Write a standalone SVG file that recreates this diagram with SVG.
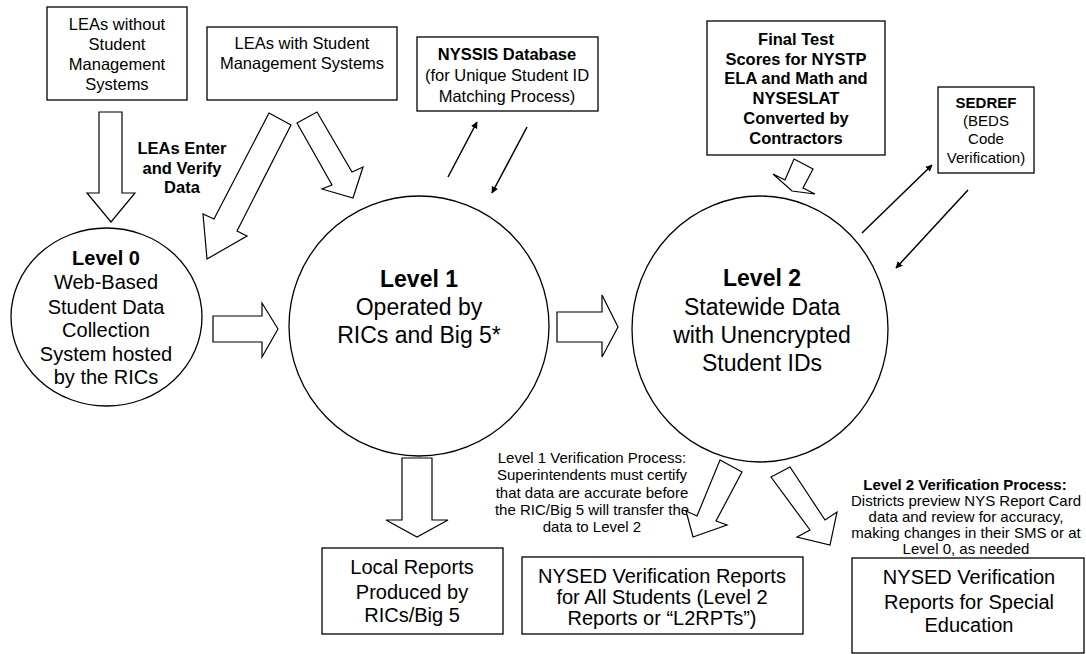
<svg xmlns="http://www.w3.org/2000/svg" width="1086" height="654" viewBox="0 0 1086 654">
<defs>
<style>
.box{fill:#fff;stroke:#000;stroke-width:1.3}
.blk{fill:#fff;stroke:#000;stroke-width:1.2;stroke-linejoin:miter}
.ln{stroke:#000;stroke-width:1.5;fill:none}
text{font-family:"Liberation Sans",Arial,sans-serif;fill:#000;text-anchor:middle}
.t16{font-size:16.5px}
.t15{font-size:15px}
.b{font-weight:bold}
.t20{font-size:20px}
.t23{font-size:23px}
</style>
<marker id="ah" viewBox="0 0 10 10" refX="9" refY="5" markerWidth="7" markerHeight="7" orient="auto" markerUnits="userSpaceOnUse">
<path d="M0,0 L10,5 L0,10 z" fill="#000"/>
</marker>
</defs>
<rect width="1086" height="654" fill="#fff"/>

<g id="leas-without">
<rect class="box" x="47" y="7" width="140" height="93"/>
<text class="t16" x="117" y="30">LEAs without</text>
<text class="t16" x="117" y="50">Student</text>
<text class="t16" x="117" y="70">Management</text>
<text class="t16" x="117" y="90">Systems</text>
</g>

<g id="leas-with">
<rect class="box" x="207" y="27" width="190" height="73"/>
<text class="t16" x="302" y="49">LEAs with Student</text>
<text class="t16" x="302" y="69">Management Systems</text>
</g>

<g id="nyssis">
<rect class="box" x="417" y="37" width="181" height="74"/>
<text class="t16 b" x="507" y="60">NYSSIS Database</text>
<text class="t16" x="507" y="81">(for Unique Student ID</text>
<text class="t16" x="507" y="102">Matching Process)</text>
</g>

<g id="final-test">
<rect class="box" x="707" y="21" width="178" height="134"/>
<text class="t16 b" x="796" y="45">Final Test</text>
<text class="t16 b" x="796" y="65">Scores for NYSTP</text>
<text class="t16 b" x="796" y="84">ELA and Math and</text>
<text class="t16 b" x="796" y="104">NYSESLAT</text>
<text class="t16 b" x="796" y="124">Converted by</text>
<text class="t16 b" x="796" y="144">Contractors</text>
</g>

<g id="sedref">
<rect class="box" x="938" y="87" width="96" height="86"/>
<text class="t15 b" x="986" y="108">SEDREF</text>
<text class="t15" x="986" y="126">(BEDS</text>
<text class="t15" x="986" y="144">Code</text>
<text class="t15" x="986" y="163">Verification)</text>
</g>

<g id="level0">
<ellipse class="box" cx="106.5" cy="317" rx="95.5" ry="89"/>
<text class="t20 b" x="106" y="265">Level 0</text>
<text class="t20" x="106" y="289">Web-Based</text>
<text class="t20" x="106" y="314">Student Data</text>
<text class="t20" x="106" y="337">Collection</text>
<text class="t20" x="106" y="361">System hosted</text>
<text class="t20" x="106" y="384">by the RICs</text>
</g>

<g id="level1">
<circle class="box" cx="419" cy="326" r="130"/>
<text class="t23 b" x="419" y="287">Level 1</text>
<text class="t23" x="419" y="315">Operated by</text>
<text class="t23" x="419" y="343">RICs and Big 5*</text>
</g>

<g id="level2">
<ellipse class="box" cx="760" cy="329" rx="128" ry="133"/>
<text class="t23 b" x="762" y="286">Level 2</text>
<text class="t23" x="762" y="315">Statewide Data</text>
<text class="t23" x="762" y="343">with Unencrypted</text>
<text class="t23" x="762" y="371">Student IDs</text>
</g>

<g id="local-reports">
<rect class="box" x="322" y="548" width="181" height="86"/>
<text class="t20" x="412" y="574">Local Reports</text>
<text class="t20" x="412" y="599">Produced by</text>
<text class="t20" x="412" y="622">RICs/Big 5</text>
</g>

<g id="nysed-all">
<rect class="box" x="522" y="557" width="281" height="77"/>
<text class="t20" x="662" y="583">NYSED Verification Reports</text>
<text class="t20" x="662" y="604">for All Students (Level 2</text>
<text class="t20" x="662" y="625">Reports or “L2RPTs”)</text>
</g>

<g id="nysed-sped">
<rect class="box" x="852" y="558" width="232" height="95"/>
<text class="t20" x="969" y="584">NYSED Verification</text>
<text class="t20" x="969" y="609">Reports for Special</text>
<text class="t20" x="969" y="632">Education</text>
</g>

<g id="labels">
<text class="t16 b" x="182" y="154">LEAs Enter</text>
<text class="t16 b" x="182" y="174">and Verify</text>
<text class="t16 b" x="182" y="193">Data</text>
<g class="t15">
<text x="592" y="463">Level 1 Verification Process:</text>
<text x="592" y="480">Superintendents must certify</text>
<text x="592" y="498">that data are accurate before</text>
<text x="592" y="515">the RIC/Big 5 will transfer the</text>
<text x="592" y="532">data to Level 2</text>
</g>
<g class="t15">
<text class="b" x="965" y="490">Level 2 Verification Process:</text>
<text x="966" y="506">Districts preview NYS Report Card</text>
<text x="966" y="522">data and review for accuracy,</text>
<text x="966" y="538">making changes in their SMS or at</text>
<text x="966" y="554">Level 0, as needed</text>
</g>
</g>

<g id="connectors">
<polygon class="blk" points="99,112 122,112 122,193 135,193 111,222 87,193 99,193"/>
<polygon class="blk" points="269,113 291,125 237,231 247,236 207,259 203,214 214,219"/>
<polygon class="blk" points="297,123 317,112 352,172 363,167 353,198 322,189 332,185"/>
<polygon class="blk" points="213,316 262,316 262,303 278,329 262,357 262,342 213,342"/>
<polygon class="blk" points="557,312 602,312 602,295 618,327 602,357 602,342 557,342"/>
<polygon class="blk" points="402,458 432,458 432,520 448,520 417,537 386,520 402,520"/>
<polygon class="blk" points="794,159 813,169 803,188 815,194 792,191 773,174 785,180"/>
<polygon class="blk" points="720,460 742,472 716,521 727,525 693,537 686,511 697,516"/>
<polygon class="blk" points="771,477 790,467 825,520 837,512 830,545 797,537 810,530"/>
<line class="ln" x1="448" y1="177" x2="477" y2="122" marker-end="url(#ah)"/>
<line class="ln" x1="527" y1="127" x2="492" y2="193" marker-end="url(#ah)"/>
<line class="ln" x1="862" y1="233" x2="932" y2="165" marker-end="url(#ah)"/>
<line class="ln" x1="968" y1="190" x2="896" y2="268" marker-end="url(#ah)"/>
</g>
</svg>
